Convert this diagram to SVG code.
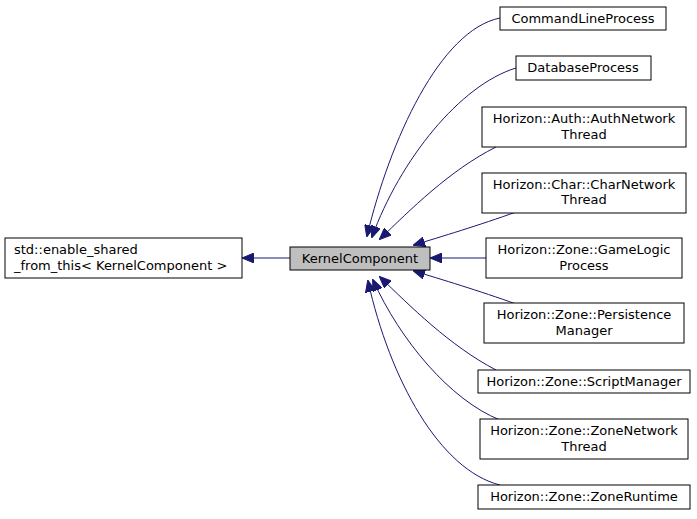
<svg xmlns="http://www.w3.org/2000/svg" width="697" height="519" viewBox="0 0 697 519">
<style>
.n rect{fill:#fff;stroke:#000;stroke-width:1}
text{font-family:"DejaVu Sans",sans-serif;font-size:13px;fill:#000}
.e path{fill:none;stroke:#191970;stroke-width:1}
</style>
<defs><marker id="a" markerWidth="12" markerHeight="10" refX="11" refY="5" orient="auto" markerUnits="userSpaceOnUse"><path d="M0,0 L12,5 L0,10 Z" fill="#191970" stroke="#191970"/></marker></defs>
<rect width="697" height="519" fill="#fff"/>
<g class="e">
<path d="M290,258 L243,258" marker-end="url(#a)"/>
<path d="M500,18 C440,30 390,140 367,236" marker-end="url(#a)"/>
<path d="M516,68 C460,85 400,160 372,237" marker-end="url(#a)"/>
<path d="M496,147 C450,170 410,210 380,239" marker-end="url(#a)"/>
<path d="M516,212 C480,225 440,237 414,245" marker-end="url(#a)"/>
<path d="M486,258 L431,258" marker-end="url(#a)"/>
<path d="M516,304 C480,291 440,279 414,271" marker-end="url(#a)"/>
<path d="M496,370 C450,346 410,306 380,277" marker-end="url(#a)"/>
<path d="M500,420 C450,400 400,340 373,280" marker-end="url(#a)"/>
<path d="M500,485 C440,470 390,380 368,281" marker-end="url(#a)"/>
</g>
<g id="kc" class="n"><rect x="290" y="247" width="140" height="23" style="fill:#bfbfbf"/><text x="360" y="263" text-anchor="middle">KernelComponent</text></g>
<g id="esft" class="n"><rect x="5" y="238" width="237" height="40"/><text x="14" y="254">std::enable_shared</text><text x="14" y="270">_from_this&lt; KernelComponent &gt;</text></g>
<g id="clp" class="n"><rect x="500" y="7" width="166" height="23"/><text x="583" y="23" text-anchor="middle">CommandLineProcess</text></g>
<g id="dbp" class="n"><rect x="516" y="56" width="135" height="24"/><text x="583" y="72" text-anchor="middle">DatabaseProcess</text></g>
<g id="ant" class="n"><rect x="482" y="107" width="204" height="40"/><text x="584" y="123" text-anchor="middle">Horizon::Auth::AuthNetwork</text><text x="584" y="139" text-anchor="middle">Thread</text></g>
<g id="cnt" class="n"><rect x="482" y="173" width="204" height="40"/><text x="584" y="189" text-anchor="middle">Horizon::Char::CharNetwork</text><text x="584" y="204" text-anchor="middle">Thread</text></g>
<g id="glp" class="n"><rect x="486" y="238" width="196" height="40"/><text x="584" y="254" text-anchor="middle">Horizon::Zone::GameLogic</text><text x="584" y="270" text-anchor="middle">Process</text></g>
<g id="pm" class="n"><rect x="484" y="303" width="200" height="40"/><text x="584" y="319" text-anchor="middle">Horizon::Zone::Persistence</text><text x="584" y="335" text-anchor="middle">Manager</text></g>
<g id="sm" class="n"><rect x="478" y="370" width="212" height="23"/><text x="584" y="386" text-anchor="middle">Horizon::Zone::ScriptManager</text></g>
<g id="znt" class="n"><rect x="480" y="419" width="208" height="40"/><text x="584" y="435" text-anchor="middle">Horizon::Zone::ZoneNetwork</text><text x="584" y="451" text-anchor="middle">Thread</text></g>
<g id="zr" class="n"><rect x="478" y="485" width="212" height="24"/><text x="584" y="501" text-anchor="middle">Horizon::Zone::ZoneRuntime</text></g>
</svg>
